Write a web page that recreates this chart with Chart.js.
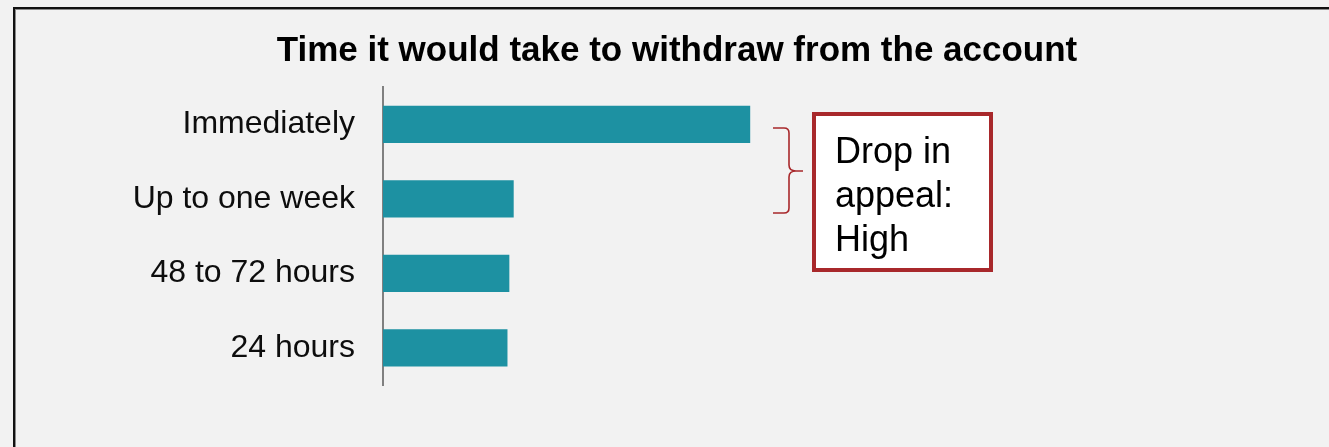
<!DOCTYPE html>
<html>
<head>
<meta charset="utf-8">
<script src="https://cdn.jsdelivr.net/npm/chart.js@4/dist/chart.umd.min.js"></script>
<style>
  html, body { margin: 0; padding: 0; background: #f2f2f2; overflow: hidden; }
  canvas { display: block; }
</style>
</head>
<body>
<canvas id="c" width="1329" height="447"></canvas>
<script>
const titleText = 'Time it would take to withdraw from the account';
const categories = ['Immediately', 'Up to one week', '48 to 72 hours', '24 hours'];
const values = [59, 21, 20.3, 20];
const calloutLines = ['Drop in', 'appeal:', 'High'];

const FONT = '"Liberation Sans", Arial, Helvetica, sans-serif';
const RED = '#a8282b';

const framePlugin = {
  id: 'frame',
  beforeDraw(chart) {
    const ctx = chart.ctx;
    ctx.save();
    ctx.fillStyle = '#f2f2f2';
    ctx.fillRect(0, 0, chart.width, chart.height);
    ctx.fillStyle = '#111';
    ctx.fillRect(13, 7, chart.width - 13, 2);
    ctx.fillRect(13, 7, 2, chart.height - 7);
    ctx.fillStyle = '#8a8a8a';
    ctx.fillRect(15, 9, chart.width - 15, 1);
    ctx.fillRect(15, 9, 1, chart.height - 9);
    ctx.restore();
  }
};

const calloutPlugin = {
  id: 'callout',
  afterDraw(chart) {
    const ctx = chart.ctx;
    ctx.save();
    // bracket
    ctx.strokeStyle = RED;
    ctx.lineWidth = 1.6;
    ctx.beginPath();
    ctx.moveTo(773, 128);
    ctx.lineTo(784, 128);
    ctx.quadraticCurveTo(789, 128, 789, 133);
    ctx.lineTo(789, 165);
    ctx.quadraticCurveTo(789, 171, 796, 171);
    ctx.lineTo(803, 171);
    ctx.moveTo(796, 171);
    ctx.quadraticCurveTo(789, 171, 789, 177);
    ctx.lineTo(789, 208);
    ctx.quadraticCurveTo(789, 213, 784, 213);
    ctx.lineTo(773, 213);
    ctx.stroke();
    // box
    ctx.fillStyle = '#ffffff';
    ctx.fillRect(814, 114, 177, 156);
    ctx.strokeStyle = RED;
    ctx.lineWidth = 4;
    ctx.strokeRect(814, 114, 177, 156);
    // text
    ctx.fillStyle = '#000';
    ctx.font = '36px ' + FONT;
    ctx.textAlign = 'left';
    ctx.textBaseline = 'alphabetic';
    calloutLines.forEach((t, i) => ctx.fillText(t, 835, 163 + i * 44));
    ctx.restore();
  }
};

new Chart(document.getElementById('c'), {
  type: 'bar',
  data: {
    labels: categories,
    datasets: [{
      data: values,
      backgroundColor: '#1d91a2',
      borderWidth: 0,
      categoryPercentage: 0.5,
      barPercentage: 1.0
    }]
  },
  options: {
    indexAxis: 'y',
    responsive: false,
    animation: false,
    devicePixelRatio: 1,
    layout: { padding: { top: 8, bottom: 62, left: 25, right: 0 } },
    plugins: {
      legend: { display: false },
      tooltip: { enabled: false },
      title: {
        display: true,
        text: titleText,
        color: '#000',
        font: { family: FONT, size: 35, weight: 'bold', lineHeight: 1.2 },
        padding: { top: 22, bottom: 15 }
      }
    },
    scales: {
      x: { display: false, min: 0, max: 152 },
      y: {
        grid: { display: false, drawTicks: false },
        border: { display: true, color: '#808080', width: 2 },
        ticks: {
          color: '#0d0d0d',
          padding: 28,
          font: { family: FONT, size: 32 }
        },
        afterFit(scale) { scale.width = 358; }
      }
    }
  },
  plugins: [framePlugin, calloutPlugin]
});
</script>
</body>
</html>
